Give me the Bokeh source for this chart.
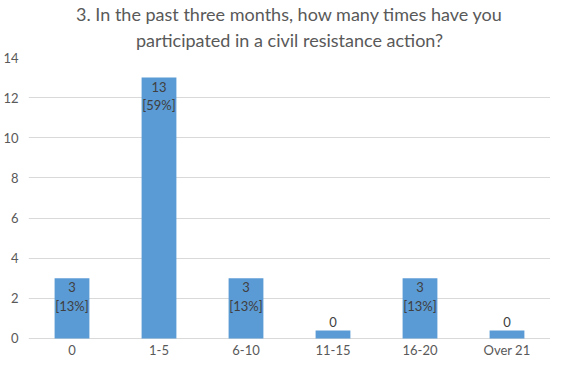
from bokeh.plotting import figure
from bokeh.models import ColumnDataSource, FixedTicker, Range1d, Title
from bokeh.core.properties import value
from bokeh.embed import file_html
from bokeh.resources import INLINE

categories = ["0", "1-5", "6-10", "11-15", "16-20", "Over 21"]
counts = [3, 13, 3, 0, 3, 0]
percents = ["13%", "59%", "13%", "0%", "13%", "0%"]
y_ticks = [0, 2, 4, 6, 8, 10, 12, 14]
title_lines = ["3. In the past three months, how many times have you",
               "participated in a civil resistance action?"]

MIN_BAR = 0.4  # Excel-style minimal visible bar for zero values
FONT = "Lato"

heights = [c if c > 0 else MIN_BAR for c in counts]
inside = [f"{c}\n[{p}]" if c > 0 else "" for c, p in zip(counts, percents)]
outside = [str(c) if c == 0 else "" for c in counts]
base = [0] * len(categories)

src = ColumnDataSource(dict(cat=categories, top=heights, inside=inside,
                            outside=outside, base=base))

p = figure(x_range=categories, width=550, height=358, output_backend="svg",
           toolbar_location=None, x_axis_location=None,
           min_border_left=22, min_border_right=0,
           min_border_bottom=0, min_border_top=0)
# frame extends a little below 0 so the category labels sit inside it
p.y_range = Range1d(-1.0, 14)
p.x_range.range_padding = 0

def style_title(t):
    t.align = "center"
    t.text_font = FONT
    t.text_font_size = "18px"
    t.text_font_style = "normal"
    t.text_color = "#595959"

p.title.text = title_lines[0]
style_title(p.title)
p.title.standoff = 0
t2 = Title(text=title_lines[1], vertical_align="top")
style_title(t2)
t2.standoff = 9
p.add_layout(t2, "above")

p.vbar(x="cat", top="top", width=0.4, source=src, color="#5B9BD5", line_color=None)

p.text(x="cat", y="top", text="inside", source=src, text_align="center",
       text_baseline="top", y_offset=1, text_font=value(FONT), text_font_size="13px",
       text_color="#404040", text_line_height=1.15)
p.text(x="cat", y="top", text="outside", source=src, text_align="center",
       text_baseline="bottom", y_offset=-3, text_font=value(FONT), text_font_size="13px",
       text_color="#404040")
# category labels below the zero line
p.text(x="cat", y="base", text="cat", source=src, text_align="center",
       text_baseline="middle", y_offset=12, text_font=value(FONT),
       text_font_size="13px", text_color="#595959")

p.yaxis.ticker = FixedTicker(ticks=y_ticks)
ax = p.yaxis[0]
ax.axis_line_color = None
ax.major_tick_line_color = None
ax.minor_tick_line_color = None
ax.major_tick_out = 0
ax.major_tick_in = 0
ax.minor_tick_out = 0
ax.major_label_text_font = FONT
ax.major_label_text_font_size = "13px"
ax.major_label_text_color = "#595959"
ax.major_label_standoff = 10

p.xgrid.grid_line_color = None
p.ygrid.grid_line_color = "#D9D9D9"
p.ygrid.grid_line_width = 1
p.outline_line_color = None
p.background_fill_color = "white"
p.border_fill_color = "white"

open("out.html", "w").write(file_html(p, INLINE))
